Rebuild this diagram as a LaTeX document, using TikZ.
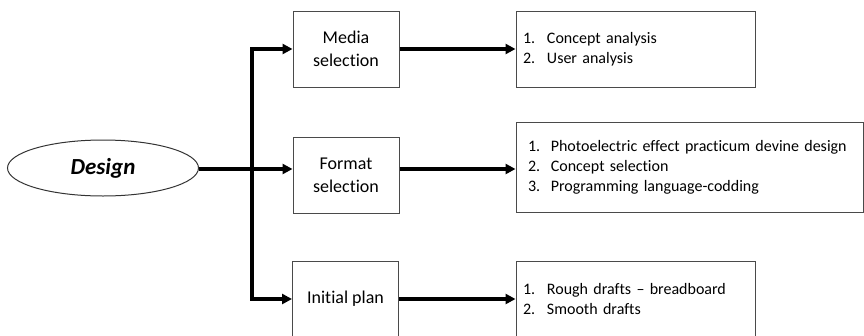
\documentclass[tikz,border=0pt]{standalone}
\usepackage{fontspec}
\setmainfont[Ligatures={NoCommon}]{Carlito}
\usetikzlibrary{shapes.geometric,arrows.meta}
\definecolor{boxline}{HTML}{4A4A4A}
\tikzset{
  x=1pt, y=-1pt,
  stage/.style={draw=boxline, line width=1pt, minimum width=106pt, minimum height=76pt,
    inner sep=0pt, align=center, font=\fontsize{18}{23}\selectfont},
  listbox/.style={draw=boxline, line width=1pt, inner xsep=7pt, inner ysep=0pt,
    align=left, font=\fontsize{16}{20}\selectfont},
  arr/.style={line width=3.5pt, -{Triangle[length=10pt,width=10pt]}},
}
\newcommand{\itm}[1]{\makebox[24pt][l]{#1}}
\begin{document}
\begin{tikzpicture}
\useasboundingbox (0,0) rectangle (864,335);
\clip (0,0) rectangle (864,335);
\node[draw=black!80, line width=1pt, ellipse, minimum width=191pt, minimum height=56pt, inner sep=0pt,
  font=\fontsize{23}{26}\selectfont\bfseries\itshape] (design) at (103,168) {Design};
\node[stage] (media) at (346,49) {Media\\selection};
\node[stage] (format) at (346,175) {Format\\selection};
\node[stage] (plan) at (345.5,299) {Initial plan};
\node[listbox, minimum width=239pt, minimum height=76pt, text width=225pt] (l1) at (635.5,49)
  {\itm{1.}Concept analysis\\\itm{2.}User analysis};
\node[listbox, minimum width=347pt, minimum height=90pt, text width=323pt, inner xsep=12pt] (l2) at (689.5,167.5)
  {1.\ \ Photoelectric effect practicum devine design\\2.\ \ Concept selection\\3.\ \ Programming language-codding};
\node[listbox, minimum width=239pt, minimum height=76pt, text width=225pt] (l3) at (635.5,299)
  {\itm{1.}Rough drafts -- breadboard\\\itm{2.}Smooth drafts};
\coordinate (j) at (252,169);
\draw[arr] (design.east |- j) -- (format.west |- j);
\draw[arr] (format.east |- j) -- (l2.west |- j);
\draw[arr] (j) |- (media.west);
\draw[arr] (j) |- (plan.west);
\draw[arr] (media.east) -- (l1.west);
\draw[arr] (plan.east) -- (l3.west);
\end{tikzpicture}
\end{document}
